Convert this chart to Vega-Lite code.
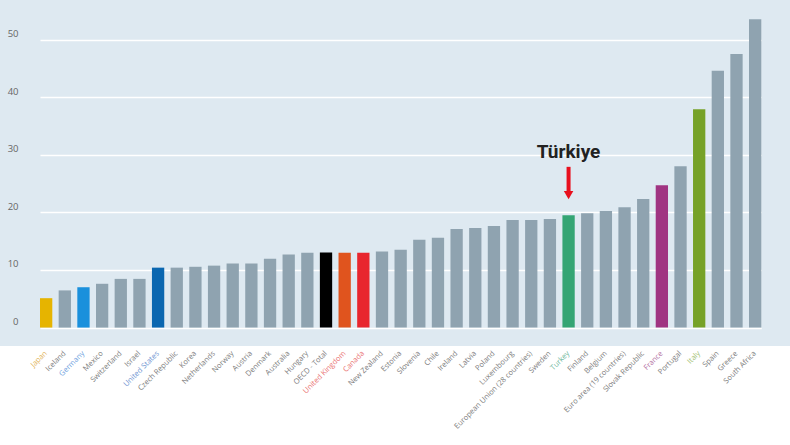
{
  "$schema": "https://vega.github.io/schema/vega-lite/v6.json",
  "width": 790,
  "height": 346,
  "autosize": {"type": "none"},
  "padding": {"left": 0, "top": 0, "right": 0, "bottom": 99},
  "background": "#ffffff",
  "config": {
    "view": {"fill": "#dee9f1", "stroke": null},
    "font": "Open Sans"
  },
  "data": {
    "values": [
      {"country": "Japan", "value": 5.1},
      {"country": "Iceland", "value": 6.45},
      {"country": "Germany", "value": 7.0},
      {"country": "Mexico", "value": 7.6},
      {"country": "Switzerland", "value": 8.45},
      {"country": "Israel", "value": 8.45},
      {"country": "United States", "value": 10.4},
      {"country": "Czech Republic", "value": 10.4},
      {"country": "Korea", "value": 10.55},
      {"country": "Netherlands", "value": 10.75},
      {"country": "Norway", "value": 11.1},
      {"country": "Austria", "value": 11.1},
      {"country": "Denmark", "value": 11.95},
      {"country": "Australia", "value": 12.7},
      {"country": "Hungary", "value": 13.0},
      {"country": "OECD - Total", "value": 13.05},
      {"country": "United Kingdom", "value": 13.0},
      {"country": "Canada", "value": 13.0},
      {"country": "New Zealand", "value": 13.2},
      {"country": "Estonia", "value": 13.5},
      {"country": "Slovenia", "value": 15.25},
      {"country": "Chile", "value": 15.6},
      {"country": "Ireland", "value": 17.1},
      {"country": "Latvia", "value": 17.3},
      {"country": "Poland", "value": 17.65},
      {"country": "Luxembourg", "value": 18.65},
      {"country": "European Union (28 countries)", "value": 18.65},
      {"country": "Sweden", "value": 18.85},
      {"country": "Turkey", "value": 19.5, "note": "Türkiye"},
      {"country": "Finland", "value": 19.85},
      {"country": "Belgium", "value": 20.25},
      {"country": "Euro area (19 countries)", "value": 20.9},
      {"country": "Slovak Republic", "value": 22.3},
      {"country": "France", "value": 24.7},
      {"country": "Portugal", "value": 28.0},
      {"country": "Italy", "value": 37.9},
      {"country": "Spain", "value": 44.6},
      {"country": "Greece", "value": 47.5},
      {"country": "South Africa", "value": 53.5}
    ]
  },
  "encoding": {
    "x": {
      "field": "country",
      "type": "nominal",
      "sort": null,
      "title": null,
      "scale": {"paddingInner": 0.341, "paddingOuter": 0, "range": [40, 761.3]},
      "axis": {
        "domain": false,
        "ticks": false,
        "labelAngle": -45,
        "labelAlign": "right",
        "labelBaseline": "middle",
        "labelPadding": 6,
        "labelFontSize": 7.5,
        "labelFont": "Open Sans",
        "labelLimit": 200,
        "labelOverlap": false,
        "labelColor": {"expr": "datum.value==='Japan' ? '#e2b55c' : datum.value==='Germany' ? '#6f9fe0' : datum.value==='United States' ? '#7096d2' : (datum.value==='United Kingdom' || datum.value==='Canada') ? '#ea7474' : datum.value==='Turkey' ? '#6fb89c' : datum.value==='France' ? '#b474a4' : datum.value==='Italy' ? '#a4c274' : '#7d7d7d'"}
      }
    },
    "y": {
      "type": "quantitative",
      "scale": {"domain": [-3.2, 56.86], "nice": false, "zero": false},
      "title": null,
      "axis": {
        "values": [0, 10, 20, 30, 40, 50],
        "domain": false,
        "ticks": false,
        "grid": true,
        "gridColor": "#ffffff",
        "gridWidth": 1.6,
        "gridOpacity": 1,
        "labelAlign": "right",
        "labelBaseline": "alphabetic",
        "labelPadding": -18,
        "labelOffset": -3,
        "labelFontSize": 9.5,
        "labelColor": "#666666",
        "labelFont": "Open Sans"
      }
    }
  },
  "layer": [
    {
      "mark": {"type": "bar"},
      "encoding": {
        "y": {"field": "value", "type": "quantitative"},
        "y2": {"datum": 0},
        "color": {
          "condition": [
            {"test": "datum.country==='Japan'", "value": "#e6b400"},
            {"test": "datum.country==='Germany'", "value": "#1a90dc"},
            {"test": "datum.country==='United States'", "value": "#0b67b0"},
            {"test": "datum.country==='OECD - Total'", "value": "#000000"},
            {"test": "datum.country==='United Kingdom'", "value": "#e0541e"},
            {"test": "datum.country==='Canada'", "value": "#e8262e"},
            {"test": "datum.country==='Turkey'", "value": "#34a574"},
            {"test": "datum.country==='France'", "value": "#a03482"},
            {"test": "datum.country==='Italy'", "value": "#76a228"}
          ],
          "value": "#8fa3b0"
        }
      }
    },
    {
      "transform": [{"filter": "datum.note"}],
      "mark": {"type": "rule", "color": "#e8101e", "strokeWidth": 4},
      "encoding": {
        "y": {"datum": 27.9},
        "y2": {"datum": 23.6}
      }
    },
    {
      "transform": [{"filter": "datum.note"}],
      "mark": {"type": "point", "shape": "triangle-down", "filled": true, "color": "#e8101e", "size": 90, "opacity": 1},
      "encoding": {
        "y": {"datum": 23.0}
      }
    },
    {
      "transform": [{"filter": "datum.note"}],
      "mark": {"type": "text", "font": "Roboto", "fontWeight": "bold", "fontSize": 19, "color": "#222222", "baseline": "alphabetic", "align": "center"},
      "encoding": {
        "y": {"datum": 29.4},
        "text": {"field": "note"}
      }
    }
  ]
}
